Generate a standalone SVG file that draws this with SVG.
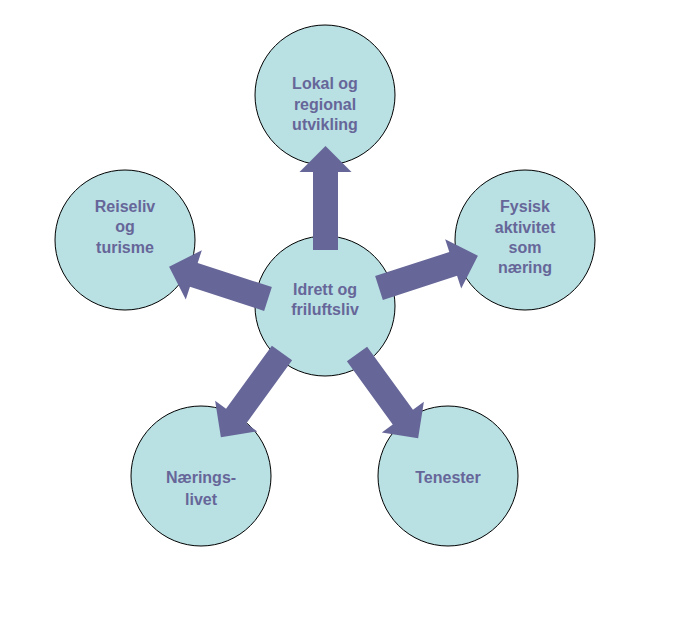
<svg xmlns="http://www.w3.org/2000/svg" width="697" height="633" viewBox="0 0 697 633">
<style>
.c{fill:#b9e0e3;stroke:#000;stroke-width:1}
.t{font-family:"Liberation Sans",Arial,sans-serif;font-weight:bold;font-size:16px;fill:#666699;text-anchor:middle}
.a{fill:#666699}
</style>
<defs>
<path id="arr" d="M0,-12.5 L78,-12.5 L78,-26 L104,0 L78,26 L78,12.5 L0,12.5 Z"/>
</defs>
<rect width="697" height="633" fill="#fff"/>
<g id="n-top"><circle class="c" cx="325" cy="95" r="70"/>
<text class="t" x="325" y="89">Lokal og</text><text class="t" x="325" y="110">regional</text><text class="t" x="325" y="130">utvikling</text></g>
<g id="n-left"><circle class="c" cx="125" cy="240" r="70"/>
<text class="t" x="125" y="212">Reiseliv</text><text class="t" x="125" y="232">og</text><text class="t" x="125" y="253">turisme</text></g>
<g id="n-right"><circle class="c" cx="525" cy="240" r="70"/>
<text class="t" x="525" y="212">Fysisk</text><text class="t" x="525" y="233">aktivitet</text><text class="t" x="525" y="253">som</text><text class="t" x="525" y="273">næring</text></g>
<g id="n-bl"><circle class="c" cx="201" cy="476" r="70"/>
<text class="t" x="201" y="483">Nærings-</text><text class="t" x="201" y="505">livet</text></g>
<g id="n-br"><circle class="c" cx="448" cy="476" r="70"/>
<text class="t" x="448" y="483">Tenester</text></g>
<g id="n-center"><circle class="c" cx="325" cy="306" r="70"/>
<text class="t" x="325" y="295">Idrett og</text><text class="t" x="325" y="315">friluftsliv</text></g>
<g id="connectors" class="a">
<use href="#arr" transform="translate(325.5,250) rotate(-90)"/>
<use href="#arr" transform="translate(268,299) rotate(-162)"/>
<use href="#arr" transform="translate(379,288) rotate(-18)"/>
<use href="#arr" transform="translate(282,353) rotate(126)"/>
<use href="#arr" transform="translate(357,354) rotate(54)"/>
</g>
</svg>
